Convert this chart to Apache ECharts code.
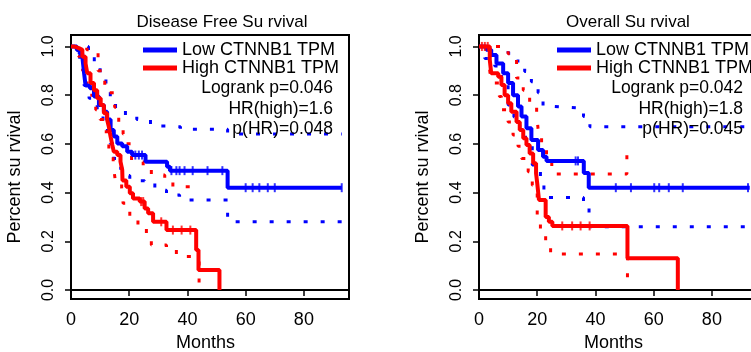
<!DOCTYPE html>
<html>
<head>
<meta charset="utf-8">
<script src="https://cdn.jsdelivr.net/npm/echarts@6/dist/echarts.min.js"></script>
<style>
  html, body { margin: 0; padding: 0; background: #fff; }
  #chart { width: 751px; height: 352px; }
</style>
</head>
<body>
<div id="chart"></div>
<script>
const titles = ['Disease Free Su rvival', 'Overall Su rvival'];
const groupNames = ['Low CTNNB1 TPM', 'High CTNNB1 TPM'];
const xTicks = [0, 20, 40, 60, 80];
const yTicks = [0, 0.2, 0.4, 0.6, 0.8, 1.0];
const statsDFS = ['Logrank p=0.046', 'HR(high)=1.6', 'p(HR)=0.048'];
const statsOS = ['Logrank p=0.042', 'HR(high)=1.8', 'p(HR)=0.045'];

// KM steps: [month, survival after that month]
const dfsLow = [[0,1],[2,0.985],[3,0.97],[3.9,0.958],[4.5,0.89],[5,0.84],[6.5,0.828],[7.9,0.794],[9.6,0.76],[11.3,0.732],[12.4,0.70],[13.6,0.657],[14.7,0.63],[15.9,0.602],[17.6,0.59],[19.3,0.568],[21,0.554],[25.6,0.527],[33,0.506],[34,0.49],[53.8,0.42],[93,0.42]];
const dfsLowUpper = [[0,1],[6,0.98],[8,0.93],[10,0.88],[12,0.83],[13.5,0.79],[15.3,0.746],[18.7,0.715],[22.6,0.70],[27.3,0.673],[32.9,0.67],[37.6,0.66],[53.8,0.64],[93,0.64]];
const dfsLowLower = [[0,1],[3,0.93],[4.5,0.84],[6.2,0.787],[9,0.74],[11,0.69],[12.5,0.64],[13.5,0.60],[14.7,0.54],[16.5,0.50],[18.5,0.47],[20.2,0.449],[25.3,0.438],[28.8,0.41],[32.8,0.39],[37.3,0.37],[53.8,0.28],[93,0.28]];
const dfsLowCensor = [22.1,23.3,24.4,34.5,36.2,37.3,39,41.8,46.9,52,60,62.4,64.7,67.6,70,93];

const dfsHigh = [[0,1],[1,0.993],[2.7,0.986],[3.9,0.958],[5,0.93],[5.6,0.89],[6.7,0.85],[7.9,0.82],[9,0.787],[10.2,0.76],[11.3,0.726],[12.4,0.70],[13,0.67],[13.6,0.63],[14.2,0.595],[14.7,0.568],[15.9,0.554],[17,0.527],[17.6,0.493],[17.7,0.45],[19,0.424],[20.2,0.397],[21.3,0.376],[23.6,0.363],[25.3,0.335],[26.5,0.315],[28.2,0.28],[32.8,0.246],[43,0.164],[43.8,0.082],[51,0]];
const dfsHighUpper = [[0,1],[5.4,0.986],[9.3,0.9],[11.6,0.84],[12.5,0.81],[15,0.75],[16.4,0.69],[17.9,0.64],[19,0.6],[20.8,0.527],[24.8,0.506],[27.6,0.472],[32.2,0.452],[35,0.424],[43.5,0.424]];
const dfsHighLower = [[0,1],[2.5,0.96],[4,0.9],[5.5,0.84],[6.5,0.8],[8.5,0.74],[10,0.7],[11.5,0.65],[13,0.58],[14.5,0.52],[15.1,0.459],[17.4,0.418],[17.9,0.356],[20.2,0.30],[23,0.267],[25.9,0.233],[27.6,0.185],[32.8,0.171],[36.2,0.137],[44,0.02]];
const dfsHighCensor = [24.1,24.8,31,35,38,41];

const osLow = [[0,1],[2.5,0.986],[4.2,0.965],[6,0.93],[8.3,0.89],[10,0.85],[11.7,0.80],[13.4,0.753],[14.6,0.712],[16.3,0.664],[18,0.616],[20.3,0.575],[22,0.547],[23.2,0.53],[36,0.48],[37.7,0.42],[93,0.42]];
const osLowUpper = [[0,1],[7,1.0],[10,0.972],[12.9,0.94],[15.7,0.897],[18,0.855],[20.3,0.81],[22,0.753],[26,0.746],[35.9,0.712],[38.1,0.67],[93,0.67]];
const osLowLower = [[0,1],[2,0.95],[5.4,0.92],[7.7,0.85],[10,0.76],[12,0.71],[14,0.664],[16,0.6],[18.3,0.513],[21.1,0.465],[22.3,0.38],[35.9,0.35],[37.8,0.26],[93,0.26]];
const osLowCensor = [33.2,34,47,52.2,60.2,61.9,65.2,70,92.4];

const osHigh = [[0,1],[3.7,0.945],[4.2,0.89],[6.6,0.876],[7.7,0.842],[8.8,0.80],[10,0.767],[11.1,0.732],[12.9,0.69],[14,0.657],[15.2,0.623],[16.3,0.595],[17.4,0.56],[18.6,0.52],[19.6,0.479],[20,0.438],[20.6,0.37],[22.9,0.30],[24,0.28],[25.2,0.263],[51,0.13],[68.3,0]];
const osHighUpper = [[0,1],[10,0.97],[12.9,0.87],[15.2,0.82],[17.4,0.77],[19.8,0.726],[20.3,0.66],[21.5,0.6],[23.2,0.547],[25,0.476],[50.8,0.575]];
const osHighLower = [[0,1],[3.7,0.9],[4.2,0.85],[7,0.794],[7.7,0.74],[10,0.69],[11.7,0.636],[13.4,0.59],[14.6,0.54],[16.9,0.486],[18.3,0.43],[20,0.308],[21.1,0.246],[22.9,0.193],[24.6,0.148],[51,0.03]];
const osHighCensor = [1,2,3,28.6,32,34.9,38];

const BLUE = '#0000ff';
const RED = '#ff0000';
const FONT = 'Liberation Sans';

const panels = [
  {low: dfsLow, lowUp: dfsLowUpper, lowLo: dfsLowLower, lowC: dfsLowCensor,
   high: dfsHigh, highUp: dfsHighUpper, highLo: dfsHighLower, highC: dfsHighCensor},
  {low: osLow, lowUp: osLowUpper, lowLo: osLowLower, lowC: osLowCensor,
   high: osHigh, highUp: osHighUpper, highLo: osHighLower, highC: osHighCensor}
];

// survival value of a step curve at month t
function stepAt(curve, t) {
  let s = curve[0][1];
  for (const p of curve) { if (p[0] <= t) s = p[1]; }
  return s;
}

const gridLefts = [71, 479];
const series = [];
panels.forEach((p, i) => {
  const ax = {xAxisIndex: i, yAxisIndex: i};
  const ci = (name, data, color) => Object.assign({
    name, type: 'line', step: 'end', data, symbol: 'none', z: 2,
    lineStyle: {color, width: 3, type: [4, 13]}
  }, ax);
  series.push(ci('low upper', p.lowUp, BLUE), ci('low lower', p.lowLo, BLUE));
  series.push(ci('high upper', p.highUp, RED), ci('high lower', p.highLo, RED));
  [[groupNames[0], p.low, p.lowC, BLUE], [groupNames[1], p.high, p.highC, RED]].forEach(([name, data, cens, color]) => {
    series.push(Object.assign({
      name, type: 'line', step: 'end', data, symbol: 'none', z: 3,
      itemStyle: {color},
      lineStyle: {color, width: 4}
    }, ax));
    series.push(Object.assign({
      name: name + ' censored', type: 'scatter', z: 4,
      data: cens.map(t => [t, stepAt(data, t)]),
      symbol: 'rect', symbolSize: [2, 9],
      itemStyle: {color}
    }, ax));
  });
});

const chart = echarts.init(document.getElementById('chart'));
chart.setOption({
  animation: false,
  backgroundColor: '#fff',
  textStyle: {fontFamily: FONT, color: '#000'},
  title: [
    {text: titles[0], left: 217, top: 9, textAlign: 'center', textStyle: {fontSize: 17, fontWeight: 'normal', color: '#000', fontFamily: FONT}},
    {text: titles[1], left: 623, top: 9, textAlign: 'center', textStyle: {fontSize: 17, fontWeight: 'normal', color: '#000', fontFamily: FONT}}
  ],
  legend: [143, 557].map(x => ({
    left: x, top: 41, orient: 'vertical', padding: 0, itemGap: 0,
    data: groupNames, icon: 'rect', itemWidth: 34, itemHeight: 5,
    selectedMode: false,
    textStyle: {fontSize: 18, lineHeight: 17, color: '#000', fontFamily: FONT}
  })),
  grid: gridLefts.map(x => ({
    left: x, top: 35, width: 278, height: 264, show: true,
    outerBoundsMode: 'none', containLabel: false,
    borderColor: '#000', borderWidth: 2, backgroundColor: 'transparent'
  })),
  xAxis: [0, 1].map(i => ({
    gridIndex: i, type: 'value', min: 0, max: 95.5,
    name: 'Months', nameLocation: 'middle', nameGap: 33,
    nameTextStyle: {fontSize: 18, color: '#000', fontFamily: FONT, padding: [0, 9, 0, 0]},
    axisLine: {show: true, lineStyle: {color: '#000', width: 2}},
    axisTick: {show: true, customValues: xTicks, length: 6, lineStyle: {color: '#000', width: 1.5}},
    axisLabel: {customValues: xTicks, fontSize: 18, color: '#000', margin: 12, fontFamily: FONT},
    splitLine: {show: false}
  })),
  yAxis: [0, 1].map(i => ({
    gridIndex: i, type: 'value', min: -0.037, max: 1.047,
    name: 'Percent su rvival', nameLocation: 'middle', nameGap: 47, nameRotate: 90,
    nameTextStyle: {fontSize: 18, color: '#000', fontFamily: FONT, padding: [0, 20, 0, 0]},
    axisLine: {show: true, lineStyle: {color: '#000', width: 2}},
    axisTick: {show: true, customValues: yTicks, length: 6, lineStyle: {color: '#000', width: 1.5}},
    axisLabel: {customValues: yTicks, rotate: 90, fontSize: 16, color: '#000', margin: 14,
      formatter: v => v.toFixed(1), fontFamily: FONT},
    splitLine: {show: false}
  })),
  graphic: [[statsDFS, 333], [statsOS, 743]].flatMap(([lines, x]) =>
    lines.map((t, k) => ({
      type: 'text', x, y: [88, 109, 129][k], z: 10,
      style: {text: t, textAlign: 'right', textVerticalAlign: 'middle',
        font: '17.5px "' + FONT + '"', fill: '#000'}
    }))
  ),
  series
});
</script>
</body>
</html>
